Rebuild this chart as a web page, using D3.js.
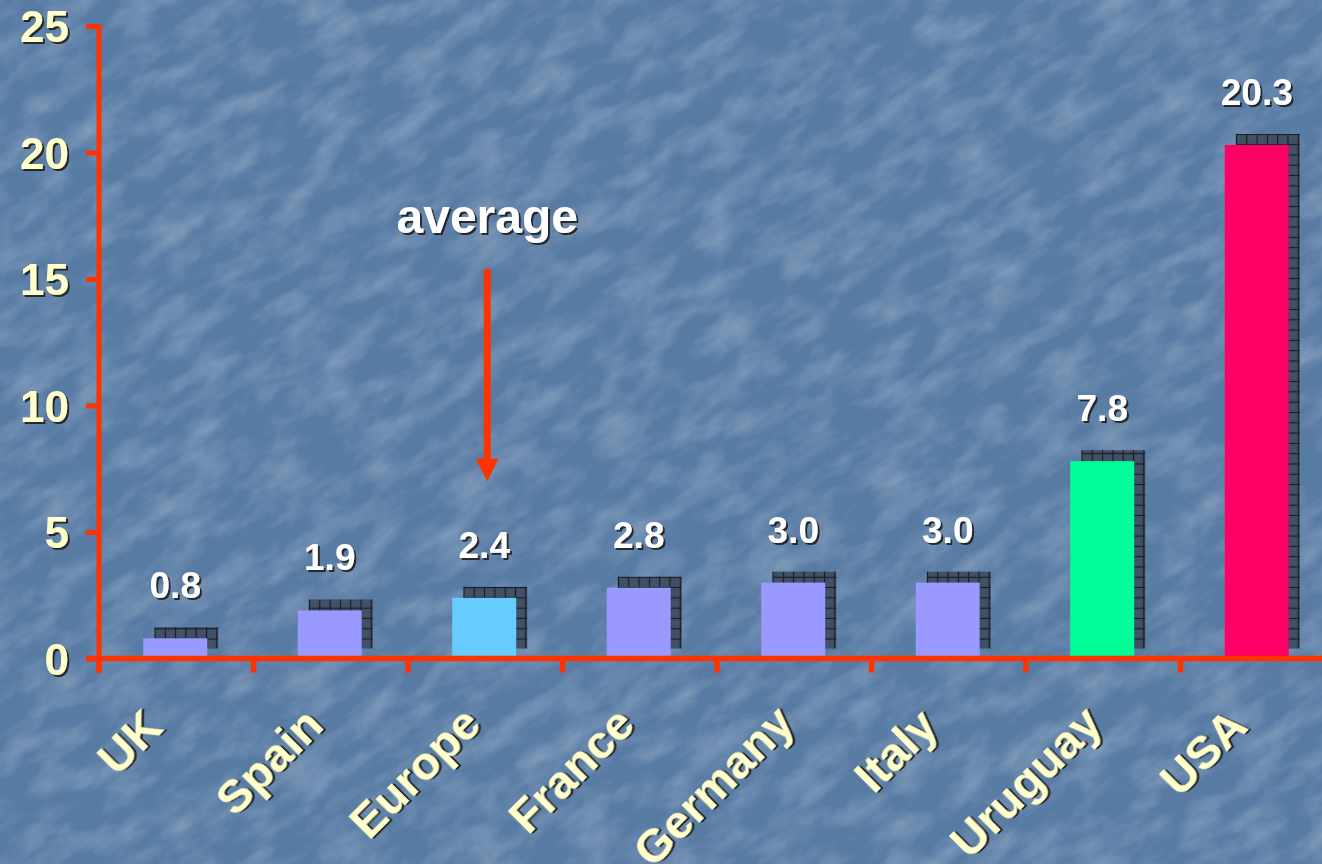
<!DOCTYPE html>
<meta charset="utf-8">
<script src="https://d3js.org/d3.v7.min.js"></script>
<style>
  html, body { margin: 0; padding: 0; overflow: hidden; }
  text { font-family: "Liberation Sans", Arial, sans-serif; font-weight: bold; }
</style>
<body>
<div id="chart"></div>
<script>

// data
var countries = ["UK", "Spain", "Europe", "France", "Germany", "Italy", "Uruguay", "USA"];
var values = [0.8, 1.9, 2.4, 2.8, 3.0, 3.0, 7.8, 20.3];
var labels = ["0.8", "1.9", "2.4", "2.8", "3.0", "3.0", "7.8", "20.3"];
var barColors = ["#9999ff", "#9999ff", "#66ccff", "#9999ff", "#9999ff", "#9999ff", "#00ff99", "#ff0066"];
var yTicks = [0, 5, 10, 15, 20, 25];
var arrowFrom = 15.4, arrowTo = 7.0, averageAt = 16.8;

var W = 1322, H = 864;
var red = "#ff3300";

var svg = d3.select("#chart").append("svg")
    .attr("width", W)
    .attr("height", H);

var defs = svg.append("defs");

// background texture, kept faint
var tex = defs.append("filter").attr("id", "marble")
    .attr("x", 0).attr("y", 0).attr("width", "100%").attr("height", "100%");
tex.append("feTurbulence")
    .attr("type", "fractalNoise")
    .attr("baseFrequency", "0.02 0.045")
    .attr("numOctaves", 4)
    .attr("seed", 3)
    .attr("result", "noise");
tex.append("feColorMatrix")
    .attr("in", "noise")
    .attr("type", "matrix")
    .attr("values", "0 0 0 0 1  0 0 0 0 1  0 0 0 0 1  0.45 0 0 0 -0.17");

// drop shadow for text
var ds = defs.append("filter").attr("id", "shadow")
    .attr("x", "-10%").attr("y", "-10%").attr("width", "130%").attr("height", "130%");
ds.append("feDropShadow")
    .attr("dx", 2).attr("dy", 2)
    .attr("stdDeviation", 0.6)
    .attr("flood-color", "#1a1a1a")
    .attr("flood-opacity", 0.9);

// grid pattern for the 3d depth blocks
var pat = defs.append("pattern").attr("id", "grid")
    .attr("patternUnits", "userSpaceOnUse")
    .attr("width", 10.3).attr("height", 10.3);
pat.append("rect").attr("width", 10.3).attr("height", 10.3).attr("fill", "#3d4b5e");
pat.append("rect").attr("x", 2).attr("y", 2).attr("width", 7).attr("height", 7)
    .attr("fill", "#46566b").attr("opacity", 0.6);
pat.append("path").attr("d", "M0,0H10.3M0,0V10.3")
    .attr("stroke", "#151c26").attr("stroke-width", 2).attr("fill", "none");

svg.append("rect").attr("width", W).attr("height", H).attr("fill", "#587ba4");
svg.append("g").attr("transform", "rotate(-35 661 432)")
  .append("rect")
    .attr("x", -400).attr("y", -400)
    .attr("width", W + 800).attr("height", H + 800)
    .attr("filter", "url(#marble)");

// scales
var x = d3.scaleBand()
    .domain(countries)
    .range([99, 99 + 8 * 154.5])
    .padding(0);

var y = d3.scaleLinear()
    .domain([0, 25])
    .range([658.5, 26]);

var barW = 64;
function barX(i) { return x(countries[i]) + x.bandwidth() / 2 - barW / 2 - 1; }

var data = countries.map(function(c, i) {
  return {name: c, value: values[i], label: labels[i], color: barColors[i], i: i};
});

// 3d depth blocks
svg.selectAll(".depth")
  .data(data)
  .enter()
  .append("rect")
    .attr("class", "depth")
    .attr("x", function(d) { return barX(d.i) + 11; })
    .attr("y", function(d) { return y(d.value) - 11; })
    .attr("width", barW)
    .attr("height", function(d) { return y(0) - 10 - (y(d.value) - 11); })
    .attr("fill", "url(#grid)");

// bars
svg.selectAll(".bar")
  .data(data)
  .enter()
  .append("rect")
    .attr("class", "bar")
    .attr("x", function(d) { return barX(d.i); })
    .attr("y", function(d) { return y(d.value); })
    .attr("width", barW)
    .attr("height", function(d) { return y(0) - y(d.value); })
    .attr("fill", function(d) { return d.color; });

// value labels
svg.selectAll(".val")
  .data(data)
  .enter()
  .append("text")
    .attr("class", "val")
    .attr("x", function(d) { return barX(d.i) + barW / 2; })
    .attr("y", function(d) { return y(d.value) - 40; })
    .attr("text-anchor", "middle")
    .attr("font-size", 37)
    .attr("fill", "#ffffff")
    .attr("filter", "url(#shadow)")
    .text(function(d) { return d.label; });

// Y axis
var yAxis = svg.append("g")
    .attr("transform", "translate(99,0)")
    .call(d3.axisLeft(y).tickValues(yTicks).tickSize(13).tickPadding(17).tickFormat(d3.format("d")));
yAxis.select(".domain").remove();
yAxis.selectAll(".tick line")
    .attr("stroke", red)
    .attr("stroke-width", 5);
yAxis.selectAll(".tick text")
    .attr("font-size", 44)
    .attr("font-family", "Liberation Sans, Arial, sans-serif")
    .attr("font-weight", "bold")
    .attr("fill", "#ffffcc")
    .attr("dy", "0.36em")
    .attr("filter", "url(#shadow)");

// X axis line and ticks
svg.append("line")
    .attr("x1", 86).attr("x2", W)
    .attr("y1", y(0)).attr("y2", y(0))
    .attr("stroke", red)
    .attr("stroke-width", 5.5);
svg.append("line")
    .attr("x1", 99).attr("x2", 99)
    .attr("y1", y(25) - 2).attr("y2", y(0) + 14)
    .attr("stroke", red)
    .attr("stroke-width", 5);
svg.selectAll(".xtick")
  .data(countries)
  .enter()
  .append("line")
    .attr("class", "xtick")
    .attr("x1", function(d) { return x(d); })
    .attr("x2", function(d) { return x(d); })
    .attr("y1", y(0))
    .attr("y2", y(0) + 14)
    .attr("stroke", red)
    .attr("stroke-width", 5.5);

// category labels, rotated; longer names sit a little further right and higher
svg.selectAll(".cat")
  .data(countries)
  .enter()
  .append("text")
    .attr("class", "cat")
    .attr("text-anchor", "end")
    .attr("font-size", 47)
    .attr("fill", "#ffffcc")
    .attr("filter", "url(#shadow)")
    .text(function(d) { return d; })
    .attr("transform", function(d) {
      var len = this.getComputedTextLength();
      var cx = x(d) + x.bandwidth() / 2 - 18 + 0.1 * len;
      var cy = y(0) + 73 - 0.03 * len;
      return "translate(" + cx + "," + cy + ")rotate(-45)";
    });

// "average" annotation with arrow pointing at Europe
var ax = x("Europe") + x.bandwidth() / 2 + 2;
svg.append("text")
    .attr("x", ax)
    .attr("y", y(averageAt))
    .attr("text-anchor", "middle")
    .attr("font-size", 48)
    .attr("fill", "#ffffff")
    .attr("filter", "url(#shadow)")
    .text("average");
svg.append("line")
    .attr("x1", ax).attr("x2", ax)
    .attr("y1", y(arrowFrom))
    .attr("y2", y(arrowTo) - 20)
    .attr("stroke", red)
    .attr("stroke-width", 7);
svg.append("path")
    .attr("d", "M" + (ax - 11.5) + "," + (y(arrowTo) - 23) +
               "L" + (ax + 11.5) + "," + (y(arrowTo) - 23) +
               "L" + ax + "," + y(arrowTo) + "Z")
    .attr("fill", red);

</script>
</body>
